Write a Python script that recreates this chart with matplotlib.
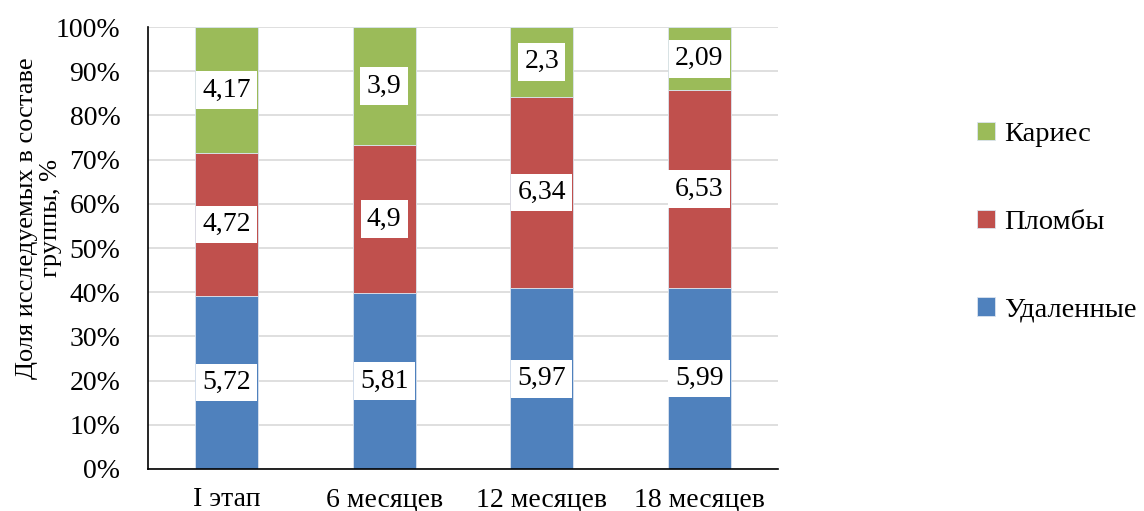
import numpy as np
import matplotlib
matplotlib.use("Agg")
import matplotlib.pyplot as plt

plt.rcParams['font.family'] = ['Liberation Serif', 'DejaVu Serif']

stages = ['I этап', '6 месяцев', '12 месяцев', '18 месяцев']
removed = np.array([5.72, 5.81, 5.97, 5.99])
fillings = np.array([4.72, 4.9, 6.34, 6.53])
caries = np.array([4.17, 3.9, 2.3, 2.09])

series = [
    ('Удаленные', removed, '#4F81BD'),
    ('Пломбы', fillings, '#C0504D'),
    ('Кариес', caries, '#9BBB59'),
]

total = removed + fillings + caries

fig = plt.figure(figsize=(11.44, 5.11), dpi=100)
ax = fig.add_axes([0.1294, 0.0822, 0.5506, 0.8648])

x = np.arange(len(stages))
bottom = np.zeros(len(stages))
handles = []
for name, vals, color in series:
    share = vals / total * 100
    bars = ax.bar(x, share, width=0.4, bottom=bottom, color=color,
                  edgecolor='#dbe4f0', linewidth=0.6, label=name, zorder=2)
    handles.append(bars)
    for xi, b, s, v in zip(x, bottom, share, vals):
        ax.text(xi, b + s / 2, f'{v:g}'.replace('.', ','), ha='center', va='center',
                fontsize=20, zorder=3,
                bbox=dict(facecolor='white', edgecolor='none', pad=4.5))
    bottom += share

ax.set_xlim(-0.5, len(stages) - 0.5)
ax.set_ylim(0, 100)
ax.set_yticks(np.arange(0, 101, 10))
ax.set_yticklabels([f'{t}%' for t in range(0, 101, 10)])
ax.set_xticks(x)
ax.set_xticklabels(stages)
ax.tick_params(axis='both', length=0, labelsize=20)
ax.tick_params(axis='x', pad=13)
ax.tick_params(axis='y', pad=20)
ax.yaxis.grid(True, color='#d9d9d9', linewidth=1.2, zorder=0)
ax.set_axisbelow(True)
for side in ['top', 'right']:
    ax.spines[side].set_visible(False)
ax.spines['left'].set_linewidth(1.2)
ax.spines['bottom'].set_linewidth(1.2)

# axis title sits over the tick labels, like the original layout
fig.text(0.034, 0.573, 'Доля исследуемых в составе\nгруппы, %', rotation=90,
         ha='center', va='center', fontsize=19, linespacing=1.1,
         multialignment='center')

fig.legend(handles[::-1], [s[0] for s in series][::-1],
           loc='center left', bbox_to_anchor=(0.832, 0.565),
           frameon=False, fontsize=20.5, handlelength=0.6, handleheight=0.6,
           handletextpad=0.35, labelspacing=2.2)

fig.savefig('out.png', dpi=100)
